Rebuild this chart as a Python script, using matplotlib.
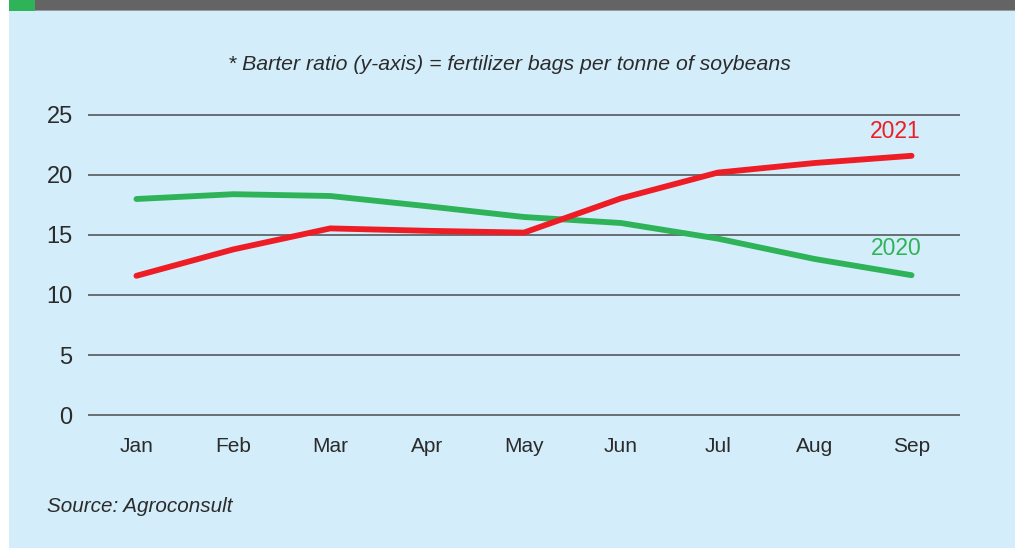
import matplotlib
matplotlib.use("Agg")
from matplotlib import pyplot as plt
from matplotlib.patches import Rectangle

months = ['Jan', 'Feb', 'Mar', 'Apr', 'May', 'Jun', 'Jul', 'Aug', 'Sep']
ratio_2020 = [18.0, 18.4, 18.25, 17.4, 16.5, 16.0, 14.7, 13.0, 11.65]
ratio_2021 = [11.6, 13.8, 15.55, 15.35, 15.2, 18.05, 20.2, 21.0, 21.6]
y_ticks = [0, 5, 10, 15, 20, 25]

bg = '#d3eefa'
red = '#ee1c25'
green = '#2eb358'
text_col = '#2b2b2b'
sans = ['Liberation Sans', 'DejaVu Sans']

W, H = 1015, 548
fig = plt.figure(figsize=(W / 100, H / 100), dpi=100)
fig.patch.set_facecolor('white')

# panel background, top bar and green tab
fig.patches.append(Rectangle((9 / W, 0), 1 - 9 / W, 1, transform=fig.transFigure,
                             facecolor=bg, edgecolor='none', zorder=-3))
fig.patches.append(Rectangle((9 / W, 1 - 10 / H), 1 - 9 / W, 10 / H, transform=fig.transFigure,
                             facecolor='#646464', edgecolor='none', zorder=-2))
fig.patches.append(Rectangle((9 / W, 1 - 11 / H), 1 - 9 / W, 1 / H, transform=fig.transFigure,
                             facecolor='#9a9a9a', edgecolor='none', zorder=-2))
fig.patches.append(Rectangle((9 / W, 1 - 11 / H), 26 / W, 11 / H, transform=fig.transFigure,
                             facecolor='#2eb358', edgecolor='none', zorder=-1))

ax = fig.add_axes([88 / W, 1 - 427 / H, 872 / W, 324 / H])
ax.set_zorder(5)
ax.set_facecolor('none')
x = list(range(len(months)))

ax.plot(x, ratio_2020, color=green, lw=4.2, solid_capstyle='round', solid_joinstyle='round', zorder=3)
ax.plot(x, ratio_2021, color=red, lw=4.2, solid_capstyle='round', solid_joinstyle='round', zorder=4)

ax.set_xlim(-0.5, len(months) - 0.5)
ax.set_ylim(-1, 26)
ax.set_yticks(y_ticks)
ax.set_xticks(x)
ax.set_xticklabels(months)
for yt in y_ticks:
    ax.axhline(yt, color='#555a5e', lw=1.2, zorder=1)

for s in ax.spines.values():
    s.set_visible(False)
ax.tick_params(axis='both', length=0, colors=text_col)
ax.tick_params(axis='y', pad=11)
ax.tick_params(axis='x', pad=7)
for lab in ax.get_yticklabels():
    lab.set_fontfamily(sans)
    lab.set_fontsize(17)
for lab in ax.get_xticklabels():
    lab.set_fontfamily(sans)
    lab.set_fontsize(15)

ax.text(7.83, 23.6, '2021', color=red, fontsize=16.5,
        family=sans, ha='center', va='center')
ax.text(7.84, 13.9, '2020', color=green, fontsize=16.5,
        family=sans, ha='center', va='center')

fig.text(509 / W, 1 - 64 / H, '* Barter ratio (y-axis) = fertilizer bags per tonne of soybeans',
         ha='center', va='center', fontsize=15.3, style='italic', color=text_col,
         family=sans)
fig.text(47 / W, 1 - 507 / H, 'Source: Agroconsult', ha='left', va='center',
         fontsize=14.9, style='italic', color=text_col, family=sans)

fig.savefig('out.png', dpi=100, facecolor=fig.get_facecolor())
